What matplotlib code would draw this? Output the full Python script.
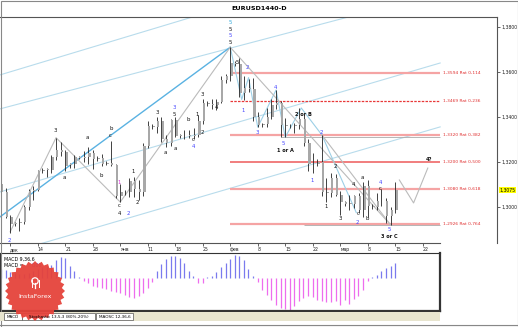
import numpy as np
import matplotlib
matplotlib.use("Agg")
import matplotlib.pyplot as plt
from matplotlib.patches import Rectangle, Polygon, Circle

# bar index: 0 = Sun 2 Dec 2012, 6 bars per week (Sun..Fri)
first_bar = 3
opens = [1.3100, 1.3065, 1.2955, 1.2925, 1.2928, 1.2935, 1.3000, 1.3070, 1.3075, 1.3160,
         1.3165, 1.3165, 1.3220, 1.3255, 1.3245, 1.3185, 1.3190, 1.3220, 1.3218, 1.3220,
         1.3240, 1.3215, 1.3218, 1.3190, 1.3195, 1.3185, 1.3050, 1.3065, 1.3068, 1.3115,
         1.3080, 1.3065, 1.3270, 1.3360, 1.3355, 1.3380, 1.3300, 1.3285, 1.3385, 1.3315,
         1.3318, 1.3320, 1.3315, 1.3320, 1.3380, 1.3460, 1.3458, 1.3455, 1.3465, 1.3565,
         1.3580, 1.3640, 1.3635, 1.3505, 1.3530, 1.3525, 1.3400, 1.3365, 1.3370, 1.3400,
         1.3455, 1.3460, 1.3365, 1.3360, 1.3362, 1.3365, 1.3390, 1.3285, 1.3190, 1.3190,
         1.3200, 1.3065, 1.3060, 1.3130, 1.3055, 1.3020, 1.3015, 1.3015, 1.3050, 1.2985,
         1.3095, 1.3005, 1.3000, 1.3025, 1.3025, 1.2960, 1.2985]
highs = [1.3127, 1.3085, 1.2965, 1.2935, 1.2950, 1.3010, 1.3080, 1.3095, 1.3165, 1.3172,
         1.3175, 1.3230, 1.3308, 1.3290, 1.3255, 1.3195, 1.3230, 1.3228, 1.3250, 1.3265,
         1.3255, 1.3225, 1.3235, 1.3205, 1.3292, 1.3190, 1.3100, 1.3075, 1.3130, 1.3135,
         1.3120, 1.3285, 1.3380, 1.3370, 1.3400, 1.3400, 1.3320, 1.3390, 1.3400, 1.3325,
         1.3340, 1.3340, 1.3350, 1.3410, 1.3480, 1.3470, 1.3480, 1.3480, 1.3580, 1.3590,
         1.3710, 1.3650, 1.3660, 1.3580, 1.3570, 1.3575, 1.3420, 1.3375, 1.3440, 1.3480,
         1.3520, 1.3470, 1.3395, 1.3370, 1.3375, 1.3440, 1.3410, 1.3300, 1.3240, 1.3215,
         1.3320, 1.3130, 1.3150, 1.3145, 1.3070, 1.3028, 1.3055, 1.3055, 1.3060, 1.3110,
         1.3120, 1.3012, 1.3060, 1.3080, 1.3040, 1.3000, 1.3110]
lows = [1.3040, 1.2950, 1.2885, 1.2915, 1.2895, 1.2925, 1.2985, 1.3030, 1.3070, 1.3150,
        1.3135, 1.3150, 1.3210, 1.3225, 1.3160, 1.3175, 1.3175, 1.3212, 1.3200, 1.3190,
        1.3170, 1.3205, 1.3180, 1.3185, 1.3180, 1.3040, 1.3020, 1.3055, 1.3045, 1.3045,
        1.3030, 1.3050, 1.3260, 1.3345, 1.3330, 1.3290, 1.3265, 1.3270, 1.3310, 1.3305,
        1.3300, 1.3305, 1.3300, 1.3310, 1.3370, 1.3450, 1.3435, 1.3430, 1.3460, 1.3550,
        1.3560, 1.3625, 1.3490, 1.3475, 1.3510, 1.3380, 1.3355, 1.3355, 1.3355, 1.3390,
        1.3435, 1.3310, 1.3310, 1.3350, 1.3330, 1.3345, 1.3270, 1.3160, 1.3150, 1.3180,
        1.3050, 1.3020, 1.3045, 1.3050, 1.2965, 1.3005, 1.2985, 1.2995, 1.2975, 1.2955,
        1.2955, 1.2990, 1.2985, 1.3005, 1.2930, 1.2920, 1.2975]
closes = [1.3065, 1.2955, 1.2925, 1.2928, 1.2935, 1.3000, 1.3070, 1.3075, 1.3160, 1.3165,
          1.3165, 1.3220, 1.3255, 1.3245, 1.3180, 1.3190, 1.3220, 1.3218, 1.3220, 1.3240,
          1.3215, 1.3218, 1.3190, 1.3195, 1.3185, 1.3050, 1.3065, 1.3068, 1.3115, 1.3080,
          1.3065, 1.3270, 1.3360, 1.3355, 1.3380, 1.3300, 1.3285, 1.3385, 1.3315, 1.3318,
          1.3320, 1.3315, 1.3320, 1.3380, 1.3460, 1.3458, 1.3455, 1.3465, 1.3565, 1.3580,
          1.3640, 1.3635, 1.3505, 1.3530, 1.3525, 1.3400, 1.3365, 1.3370, 1.3400, 1.3455,
          1.3460, 1.3365, 1.3360, 1.3362, 1.3365, 1.3390, 1.3285, 1.3190, 1.3190, 1.3200,
          1.3065, 1.3060, 1.3130, 1.3055, 1.3020, 1.3015, 1.3015, 1.3050, 1.2985, 1.3095,
          1.3005, 1.3000, 1.3025, 1.3025, 1.2960, 1.2985, 1.3075]

macd_hist = [9, 8, 6, 5, 4, 4, 5, 7, 9, 11,
             12, 13, 18, 21, 20, 12, 7, 1, -3, -5,
             -8, -9, -10, -11, -13, -14, -15, -17, -19, -20,
             -18, -15, -10, -4, 7, 14, 19, 22, 22, 20,
             15, 7, 2, -5, -5, 1, 2, 6, 11, 15,
             19, 23, 22, 18, 9, 2, -4, -12, -17, -22,
             -27, -30, -31, -32, -28, -23, -20, -18, -19, -22,
             -23, -24, -24, -23, -27, -22, -26, -21, -18, -12,
             -3, 1, 3, 7, 10, 12, 15]

date_ticks = [5, 11, 17, 23, 29, 35, 41, 47, 53, 59, 65, 71, 77, 83, 89, 95]
date_labels = ["дек", "14", "21", "28", "янв", "11", "18", "25", "фев", "8", "15", "22",
               "мар", "8", "15", "22"]
price_ticks = [1.30, 1.32, 1.34, 1.36, 1.38]
price_labels = ["1,3000", "1,3200", "1,3400", "1,3600", "1,3800"]
last_price = 1.3075

fib_levels = [1.3594, 1.3469, 1.3320, 1.3200, 1.3080, 1.2926]
fib_ratios = ["0,114", "0,236", "0,382", "0,500", "0,618", "0,764"]
fib_start = 53

# wave labels: bar, price, text, colour key
wave_bar = [4.7, 14.8, 16.7, 21.8, 24.8, 27.0, 26.8, 28.8, 28.8, 28.8, 30.7, 31.8, 32.7,
            37.0, 40.7, 40.7, 38.8, 41.0, 43.8, 44.9, 44.9, 45.8, 46.9, 46.9, 49.9,
            53.0, 53.0, 53.0, 53.0, 54.5, 56.7, 55.8, 58.9, 62.8, 64.6, 65.0, 68.9,
            72.8, 70.9, 75.9, 73.9, 77.0, 79.8, 81.8, 85.7, 85.7, 80.9, 80.7, 82.9,
            87.7, 87.7, 96.4]
wave_price = [1.2853, 1.3338, 1.3133, 1.3311, 1.3142, 1.3347, 1.3316, 1.3111, 1.3005, 1.2970,
              1.2970, 1.3156, 1.3018, 1.3418, 1.3440, 1.3409, 1.3240, 1.3258, 1.3387, 1.3298,
              1.3267, 1.3409, 1.3329, 1.3498, 1.3440, 1.3822, 1.3791, 1.3760, 1.3729, 1.3644,
              1.3618, 1.3431, 1.3333, 1.3533, 1.3284, 1.3253, 1.3413, 1.3333, 1.3116, 1.3178,
              1.3000, 1.2947, 1.3098, 1.3133, 1.3107, 1.3080, 1.2973, 1.2933, 1.2947, 1.2898,
              1.2867, 1.3209]
wave_text = ["2", "3", "a", "a", "b", "b", "c", "1", "c", "4", "2", "1", "2",
             "3", "3", "5", "a", "a", "b", "c", "4", "1", "2", "3", "4",
             "5", "5", "5", "5", "5", "2", "1", "3", "4", "5", "1 or A", "2 or B",
             "2", "1", "2", "1", "3", "4", "a", "4", "c", "c", "2", "b",
             "5", "3 or C", "4?"]
wave_col = ["b", "k", "k", "k", "k", "k", "k", "m", "k", "k", "b", "k", "k",
            "k", "b", "k", "k", "k", "k", "k", "b", "k", "k", "k", "k",
            "c", "k", "b", "k", "k", "b", "b", "b", "b", "b", "k", "k",
            "b", "b", "k", "k", "k", "k", "k", "b", "k", "k", "b", "k",
            "b", "k", "k"]
colmap = {"k": "#111111", "b": "#4444ff", "c": "#33aadd", "m": "#dd33dd"}

# wave / channel lines as (bar, price) points
zig_gray = [(5, 1.2890), (15, 1.3308), (29, 1.3022), (53, 1.3710)]
zig_blue = [(53, 1.3710), (55.5, 1.3478), (57, 1.3575), (59, 1.3355), (63, 1.3520),
            (65, 1.3310), (68.5, 1.3440), (73, 1.3320), (80.5, 1.2975)]
long_gray = [(53, 1.3710), (88, 1.2920)]
c_gray = [(73, 1.3320), (88, 1.2920)]
forecast = [(89.9, 1.3120), (93.0, 1.3018), (96.1, 1.3173)]
channels = [[(2.77, 1.3587), (44.7, 1.3844)],
            [(2.77, 1.3436), (78.7, 1.3844)],
            [(2.77, 1.3067), (98.8, 1.3640)],
            [(11.5, 1.2836), (98.8, 1.3356)]]
trend_line = [(2.77, 1.2956), (53, 1.3710)]

W, H = 518, 327


def fbox(x0, y0, x1, y1):
    return [x0 / W, 1 - y1 / H, (x1 - x0) / W, (y1 - y0) / H]


fig = plt.figure(figsize=(W / 100, H / 100), dpi=100)
fig.patch.set_facecolor("white")

# ---- main price panel
ax = fig.add_axes(fbox(0, 17, 497, 243))
ax.set_xlim(2.77, 111.2)
ax.set_ylim(1.284, 1.38444)
ax.set_facecolor("white")

for pts in channels:
    xs, ys = zip(*pts)
    ax.plot(xs, ys, color="#b8dcec", lw=0.8, zorder=1)
xs, ys = zip(*trend_line)
ax.plot(xs, ys, color="#5ab2e2", lw=1.0, zorder=1)

for k, (lev, r) in enumerate(zip(fib_levels, fib_ratios)):
    if r in ("0,236",):
        ax.hlines(lev, fib_start, 98.8, color="#e83838", lw=0.9, ls=(0, (2, 1)), zorder=2)
    elif r == "0,500":
        ax.hlines(lev, fib_start, 98.8, color="#ee5a5a", lw=1.1, zorder=2)
    else:
        ax.hlines(lev, fib_start, 98.8, color="#f5a4a4", lw=1.6, zorder=2)
    ax.text(99.4, lev, f"{lev:.4f}".replace(".", ",") + " Rat " + r, color="#e03030",
            fontsize=3.2, va="center", ha="left")
ax.hlines(1.3310, 64, 98.8, color="#aaaaaa", lw=0.6, zorder=2)
ax.hlines(1.2922, 69, 98.8, color="#aaaaaa", lw=0.6, zorder=2)

for pts, col, lw in [(zig_gray, "#bbbbbb", 0.8), (zig_blue, "#9ccfe6", 0.8),
                     (long_gray, "#bbbbbb", 0.8), (c_gray, "#bbbbbb", 0.8),
                     (forecast, "#bbbbbb", 0.8)]:
    xs, ys = zip(*pts)
    ax.plot(xs, ys, color=col, lw=lw, zorder=2)

bars = np.arange(first_bar, first_bar + len(opens))
o = np.array(opens)
c = np.array(closes)
ax.vlines(bars, lows, highs, color="#222222", lw=0.6, zorder=3)
ax.bar(bars + 0.3, np.maximum(np.abs(c - o), 0.0002), bottom=np.minimum(o, c),
       width=0.45, color="#a8a8a8", edgecolor="none", zorder=3)

for bx, py, t, ck in zip(wave_bar, wave_price, wave_text, wave_col):
    bold = " " in t or t == "4?"
    ax.text(bx, py, t, color=colmap[ck], fontsize=3.6 if bold else 3.9,
            fontweight="bold" if bold else "normal", ha="center", va="center", zorder=4)

for s in ["left", "bottom"]:
    ax.spines[s].set_visible(False)
ax.spines["top"].set_color("#555555")
ax.spines["top"].set_linewidth(0.8)
ax.spines["right"].set_color("#555555")
ax.spines["right"].set_linewidth(0.8)
ax.axhline(1.284, xmin=0, xmax=440 / 497, color="#555555", lw=0.8, clip_on=False)

ax.yaxis.tick_right()
ax.set_yticks(price_ticks)
ax.set_yticklabels(price_labels)
ax.tick_params(axis="y", length=2, width=0.5, pad=1, labelsize=3.3, colors="#222222")
ax.set_xticks(date_ticks)
ax.set_xticklabels(date_labels, ha="left")
ax.tick_params(axis="x", length=2, width=0.5, pad=0.8, labelsize=3.3, colors="#222222")
ax.text(1.005, last_price, "1,3075", transform=ax.get_yaxis_transform(), fontsize=3.3,
        va="center", ha="left", bbox=dict(boxstyle="square,pad=0.15", fc="#ffff00", ec="none"))

# ---- MACD panel
ax2 = fig.add_axes(fbox(0, 253, 440, 311))
ax2.set_xlim(2.77, 98.8)
ax2.set_ylim(-33, 25)
mb = np.arange(first_bar, first_bar + len(macd_hist))
mh = np.array(macd_hist)
ax2.vlines(mb[mh >= 0], 0, mh[mh >= 0], color="#7a7aee", lw=0.9)
ax2.vlines(mb[mh < 0], 0, mh[mh < 0], color="#ee6cee", lw=0.9)
ax2.set_xticks([])
ax2.set_yticks([])
for s in ax2.spines.values():
    s.set_color("#333333")
    s.set_linewidth(0.8)
ax2.spines["right"].set_linewidth(1.6)
ax2.spines["bottom"].set_linewidth(1.6)
ax2.text(0.01, 0.9, "MACD 9,36,6", transform=ax2.transAxes, fontsize=3.4, va="center")
ax2.text(0.01, 0.78, "MACD = ", transform=ax2.transAxes, fontsize=3.4, va="center")
ax2.text(0.072, 0.78, "0,00", transform=ax2.transAxes, fontsize=3.4, va="center",
         color="#3333ff")

# ---- overlay for frame, title, tabs and logo (pixel coords)
ov = fig.add_axes([0, 0, 1, 1], zorder=10)
ov.set_xlim(0, W)
ov.set_ylim(H, 0)
ov.axis("off")
ov.patch.set_alpha(0)
ov.add_patch(Rectangle((0.5, 0.5), W - 1, H - 1, fill=False, ec="#888888", lw=0.8))
ov.text(259, 8.5, "EURUSD1440-D", fontsize=4.6, fontweight="bold", ha="center", va="center")
ov.add_patch(Rectangle((0, 312), 440, 9, fc="#e8e5cf", ec="none"))
ov.plot([0, W], [325, 325], color="#888888", lw=0.8)
for (x0, x1, t) in [(4, 22, "MACD"), (22, 95, "Stochastic 13,5,3 (80%-20%)"),
                    (96, 133, "MAOSC 12,36,6")]:
    ov.add_patch(Rectangle((x0, 313), x1 - x0, 7, fc="white", ec="#555555", lw=0.5))
    ov.text((x0 + x1) / 2, 316.5, t, fontsize=3.0, ha="center", va="center")

# InstaForex badge
cx, cy = 35, 291
ang = np.linspace(0, 2 * np.pi, 57)[:-1]
rad = np.where(np.arange(56) % 2 == 0, 30, 27)
star = np.column_stack([cx + rad * np.cos(ang), cy + rad * np.sin(ang)])
ov.add_patch(Polygon(star, closed=True, fc="#e5433b", ec="none", alpha=0.95))
ov.add_patch(Circle((cx, cy - 10), 3.2, fc="none", ec="white", lw=0.9))
ov.plot([cx, cx], [cy - 8, cy - 3], color="white", lw=0.9)
ov.plot([cx - 3.5, cx - 3.5], [cy - 11, cy - 4], color="white", lw=0.7)
ov.plot([cx + 3.5, cx + 3.5], [cy - 11, cy - 4], color="white", lw=0.7)
ov.text(cx, cy + 5, "InstaForex", fontsize=4.6, color="white", ha="center", va="center")

fig.savefig("out.png", dpi=100)
